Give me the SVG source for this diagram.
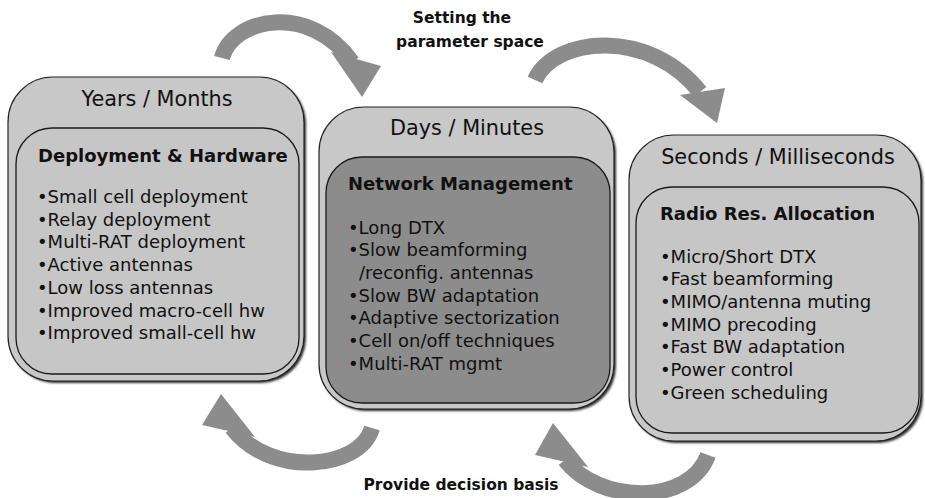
<svg xmlns="http://www.w3.org/2000/svg" width="925" height="498" viewBox="0 0 925 498">
<defs>
<filter id="blur" x="-10%" y="-10%" width="120%" height="120%"><feGaussianBlur stdDeviation="1"/></filter>
</defs>
<style>
text{font-family:"DejaVu Sans","Verdana",sans-serif;fill:#111}
.ttl{font-size:20.8px;text-anchor:middle}
.hd{font-size:18px;font-weight:bold}
.it{font-size:18px}
.lbl{font-size:15.5px;font-weight:bold;text-anchor:middle}
.shadow{fill:#333;filter:url(#blur)}
.outer{fill:#c8c8c8;stroke:#222;stroke-width:1.2}
.inner{fill:#c6c6c6;stroke:#1a1a1a;stroke-width:1.3}
.innerdark{fill:#8c8c8c;stroke:#1a1a1a;stroke-width:1.3}
.band{fill:none;stroke:#8c8c8c;stroke-width:16}
.head{fill:#8c8c8c}
</style>
<rect width="925" height="498" fill="#fff"/>
<g id="connectors">
<g id="arrow-top-left">
<path class="band" d="M222,58 C232,18 310,2 352,62"/>
<polygon class="head" points="331,52 381,66 362,97"/>
</g>
<g id="arrow-top-right">
<path class="band" d="M535,80 C555,36 650,28 700,92"/>
<polygon class="head" points="680,95 725,88 717,123"/>
</g>
<g id="arrow-bottom-left">
<path class="band" d="M372,428 C360,470 270,478 232,428"/>
<polygon class="head" points="202,425 255,437 221,394"/>
</g>
<g id="arrow-bottom-right">
<path class="band" d="M708,455 C690,505 600,505 565,460"/>
<polygon class="head" points="535,455 588,467 553,423"/>
</g>
</g>
<g id="label-top"><text class="lbl" x="462" y="23">Setting the</text><text class="lbl" x="470" y="47">parameter space</text></g>
<g id="label-bottom"><text class="lbl" x="461" y="490">Provide decision basis</text></g>
<g id="box-years">
<rect class="shadow" x="10" y="79" width="296" height="304" rx="45"/>
<rect class="outer" x="8" y="77" width="296" height="304" rx="45"/>
<rect class="inner" x="16" y="128" width="283" height="246" rx="36"/>
<text class="ttl" x="157" y="106">Years / Months</text>
<text class="hd" x="38" y="162">Deployment &amp; Hardware</text>
<text class="it" x="37" y="203">•Small cell deployment</text>
<text class="it" x="37" y="225.7">•Relay deployment</text>
<text class="it" x="37" y="248.4">•Multi-RAT deployment</text>
<text class="it" x="37" y="271.1">•Active antennas</text>
<text class="it" x="37" y="293.8">•Low loss antennas</text>
<text class="it" x="37" y="316.5">•Improved macro-cell hw</text>
<text class="it" x="37" y="339.2">•Improved small-cell hw</text>
</g>
<g id="box-days">
<rect class="shadow" x="321" y="109" width="295" height="302" rx="45"/>
<rect class="outer" x="319" y="107" width="295" height="302" rx="45"/>
<rect class="innerdark" x="326" y="157" width="284" height="246" rx="36"/>
<text class="ttl" x="467" y="135">Days / Minutes</text>
<text class="hd" x="348" y="190">Network Management</text>
<text class="it" x="348" y="233.5">•Long DTX</text>
<text class="it" x="348" y="256.2">•Slow beamforming</text>
<text class="it" x="359" y="278.9">/reconfig. antennas</text>
<text class="it" x="348" y="301.6">•Slow BW adaptation</text>
<text class="it" x="348" y="324.3">•Adaptive sectorization</text>
<text class="it" x="348" y="347">•Cell on/off techniques</text>
<text class="it" x="348" y="369.7">•Multi-RAT mgmt</text>
</g>
<g id="box-seconds">
<rect class="shadow" x="631" y="137" width="292" height="306" rx="45"/>
<rect class="outer" x="629" y="135" width="292" height="306" rx="45"/>
<rect class="inner" x="636" y="187" width="283" height="246" rx="36"/>
<text class="ttl" x="778" y="164">Seconds / Milliseconds</text>
<text class="hd" x="660" y="220">Radio Res. Allocation</text>
<text class="it" x="660" y="262.5">•Micro/Short DTX</text>
<text class="it" x="660" y="285.2">•Fast beamforming</text>
<text class="it" x="660" y="307.9">•MIMO/antenna muting</text>
<text class="it" x="660" y="330.6">•MIMO precoding</text>
<text class="it" x="660" y="353.3">•Fast BW adaptation</text>
<text class="it" x="660" y="376">•Power control</text>
<text class="it" x="660" y="398.7">•Green scheduling</text>
</g>
</svg>
